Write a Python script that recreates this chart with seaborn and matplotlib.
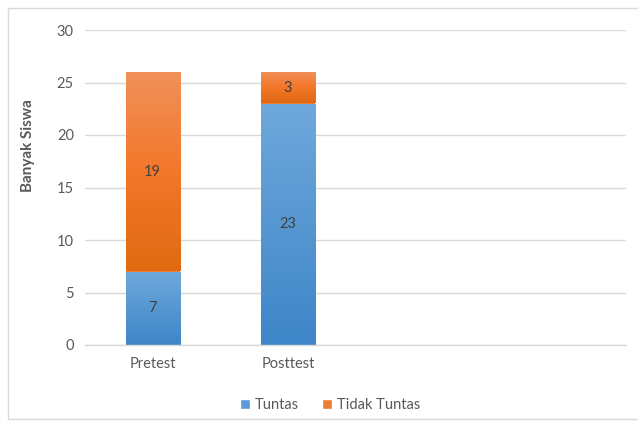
import numpy as np
import pandas as pd
import matplotlib
matplotlib.use("Agg")
import matplotlib.pyplot as plt
import seaborn as sns
from matplotlib.colors import LinearSegmentedColormap
from matplotlib.patches import Rectangle, Patch

categories = ["Pretest", "Posttest"]
tuntas = [7, 23]
tidak_tuntas = [19, 3]
series_names = ["Tuntas", "Tidak Tuntas"]
y_label = "Banyak Siswa"

sns.set_theme(style="white")
plt.rcParams['font.family'] = ['Lato', 'DejaVu Sans']

fig = plt.figure(figsize=(6.38, 4.26), dpi=100)
ax = fig.add_axes([85/638, 1-345/426, (626-85)/638, (345-30)/426])

df = pd.DataFrame({"cat": categories, "Tuntas": tuntas, "Tidak": tidak_tuntas})
blue = "#5B9BD5"
orange = "#ED7D31"
sns.barplot(data=df, x="cat", y="Tuntas", ax=ax, color=blue, width=0.4,
            saturation=1, order=categories)
n1 = len(ax.patches)
sns.barplot(data=df, x="cat", y="Tidak", ax=ax, color=orange, width=0.4,
            saturation=1, bottom=df["Tuntas"].values, order=categories)

# gradients
cm_blue = LinearSegmentedColormap.from_list("b", ["#3E86C8", "#6FA8DC"])
cm_orange = LinearSegmentedColormap.from_list("o", ["#E06A12", "#F3772A", "#F0915A"])
grad = np.linspace(0, 1, 256).reshape(-1, 1)
for i, p in enumerate(list(ax.patches)):
    cmap = cm_blue if i < n1 else cm_orange
    x0, y0 = p.get_x(), p.get_y()
    w, h = p.get_width(), p.get_height()
    im = ax.imshow(grad, cmap=cmap, origin="lower", aspect="auto",
                   extent=[x0, x0 + w, y0, y0 + h], zorder=p.get_zorder() + 0.1)
    im.set_clip_path(p)
    p.set_edgecolor("none")
ax.set_xlim(-0.5, 3.5)
ax.set_ylim(0, 30)
ax.set_yticks(range(0, 31, 5))

# value labels
for i, c in enumerate(categories):
    ax.text(i, tuntas[i] / 2, str(tuntas[i]), ha="center", va="center",
            color="#404040", fontsize=10.5, zorder=5)
    ax.text(i, tuntas[i] + tidak_tuntas[i] / 2, str(tidak_tuntas[i]), ha="center",
            va="center", color="#404040", fontsize=10.5, zorder=5)

ax.grid(axis="y", color="#D9D9D9", linewidth=1)
ax.set_axisbelow(True)
for s in ["top", "right", "left"]:
    ax.spines[s].set_visible(False)
ax.spines["bottom"].set_color("#D9D9D9")
ax.spines["bottom"].set_linewidth(1)
ax.tick_params(axis="both", length=0, labelsize=10.5, labelcolor="#595959", pad=8)
ax.tick_params(axis="x", pad=9)
ax.set_xlabel("")
ax.set_ylabel(y_label, fontsize=11, fontweight="bold", color="#595959")
ax.yaxis.set_label_coords((35 - 85) / 541, (345 - 146) / 315)

h = [Patch(facecolor=blue), Patch(facecolor=orange)]
fig.legend(h, series_names, loc="center", bbox_to_anchor=(330/638, 1-405/426), ncol=2,
           frameon=False, fontsize=10.5, labelcolor="#595959", handlelength=0.7,
           handleheight=0.7, handletextpad=0.3, columnspacing=1.6)
if ax.get_legend():
    ax.get_legend().remove()

fig.patches.append(Rectangle((8/638, 1-419/426), 640/638, 411/426, transform=fig.transFigure,
                             fill=False, edgecolor="#D9D9D9", linewidth=1))

fig.savefig("out.png", dpi=100)
